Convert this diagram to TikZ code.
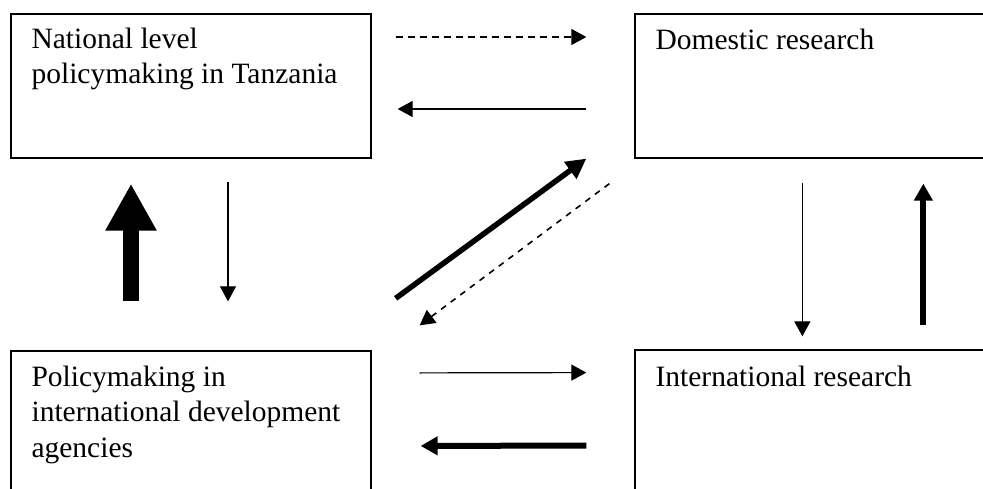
\documentclass[tikz,border=0pt]{standalone}
\usepackage{fontspec}
\setmainfont{Liberation Serif}
\usetikzlibrary{positioning,arrows.meta,calc}

\begin{document}
\begin{tikzpicture}[
    x=1pt, y=1pt,
    font={\fontsize{29.5pt}{35.5pt}\selectfont},
    box/.style={draw=black, line width=1.3pt, minimum width=360pt, inner sep=0pt},
    lbl/.style={align=left, inner sep=0pt, anchor=north west},
    flow/.style={line width=1.2pt, -{Triangle[length=15pt, width=16pt]}},
    dashflow/.style={flow, dash pattern=on 7pt off 5pt},
    heavy/.style={line width=6pt, -{Triangle[length=17pt, width=18pt]}},
    block/.style={line width=16pt, -{Triangle[length=47pt, width=48pt]}},
  ]
    \useasboundingbox (0,0) rectangle (983,489);
    \clip (0,0) rectangle (983,489);

    % four fields
    \node[box, minimum height=144pt] (nat) at (191,403) {};
    \node[box, minimum height=144pt, minimum width=400pt] (dom) at (835,403) {};
    \node[box, minimum height=168pt] (pol) at (191,54) {};
    \node[box, minimum height=169pt, minimum width=400pt] (int) at (835,54.5) {};

    \node[lbl] (natT) at ($(nat.north west)+(21,-14)$) {National level\\policymaking in Tanzania};
    \node[lbl] (domT) at ($(dom.north west)+(21,-15)$) {Domestic research};
    \node[lbl] (polT) at ($(pol.north west)+(21,-15)$) {Policymaking in\\international development\\agencies};
    \node[lbl] (intT) at ($(int.north west)+(21,-16)$) {International research};

    % top pair
    \draw[dashflow, shorten <=24pt, shorten >=48pt]
      ([yshift=49pt]nat.east) -- ([yshift=49pt]dom.west);
    \draw[flow, shorten <=48pt, shorten >=26pt]
      ([yshift=-23pt]dom.west) -- ([yshift=-23pt]nat.east);

    % left pair
    \draw[block, shorten <=49pt, shorten >=25pt]
      ([xshift=-60pt]pol.north) -- ([xshift=-60pt]nat.south);
    \draw[flow, shorten <=23pt, shorten >=49pt]
      ([xshift=37pt]nat.south) -- ([xshift=37pt]pol.north);

    % diagonal pair
    \draw[heavy, line width=5.5pt, -{Triangle[length=20pt, width=20pt]}]
      ($(pol.north east)+(24,52)$) -- ($(dom.south west)+(-48,0)$);
    \draw[dashflow, line width=1.6pt, dash pattern=on 6pt off 6pt]
      ($(dom.south west)+(-25,-25)$) -- ($(pol.north east)+(48,25)$);

    % right pair
    \draw[flow, shorten <=24pt, shorten >=13pt]
      ([xshift=168pt]dom.south west) -- ([xshift=168pt]int.north west);
    \draw[heavy, shorten <=24pt, shorten >=25pt]
      ([xshift=289pt]int.north west) -- ([xshift=289pt]dom.south west);

    % bottom pair
    \draw[flow, shorten <=48pt, shorten >=48pt]
      ([yshift=62pt]pol.east) -- ([yshift=62pt]int.west);
    \draw[heavy, shorten <=48pt, shorten >=49pt]
      ([yshift=-11pt]int.west) -- ([yshift=-11pt]pol.east);
\end{tikzpicture}
\end{document}
